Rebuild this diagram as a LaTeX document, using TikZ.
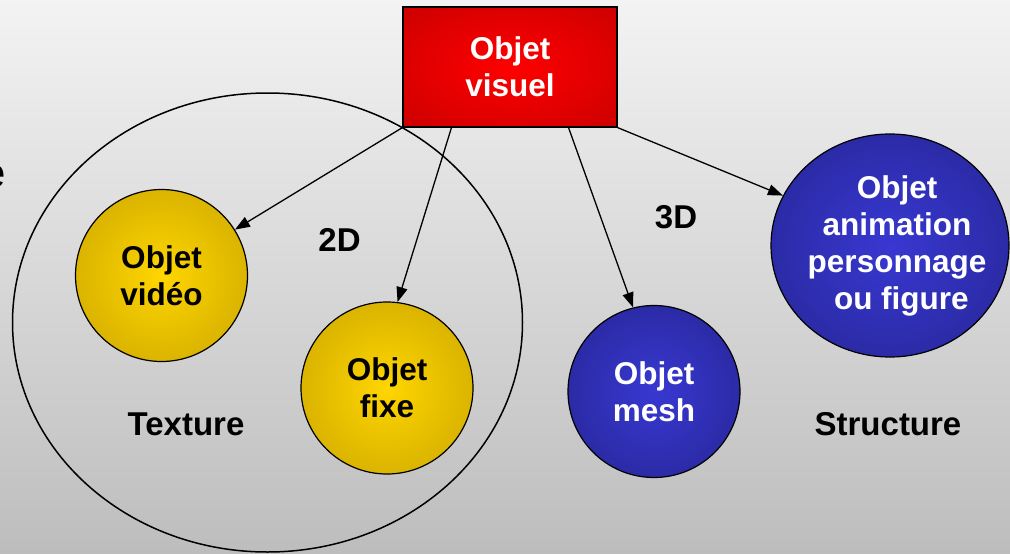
\documentclass[tikz,border=0pt]{standalone}
\usepackage{fontspec}
\setmainfont{Liberation Sans}
\usetikzlibrary{arrows.meta,shapes.geometric}
\definecolor{bgtop}{HTML}{F3F3F3}
\definecolor{bgbot}{HTML}{BDBDBD}
\definecolor{redin}{HTML}{FF0000}
\definecolor{redout}{HTML}{B80000}
\definecolor{yelin}{HTML}{FFD600}
\definecolor{yelout}{HTML}{B59200}
\definecolor{bluin}{HTML}{3838D2}
\definecolor{bluout}{HTML}{1E1E7C}
\pgfdeclareradialshading{redshade}{\pgfpoint{0bp}{0bp}}{color(0bp)=(redin); color(50bp)=(redout)}
\pgfdeclareradialshading{yelshade}{\pgfpoint{0bp}{0bp}}{color(0bp)=(yelin); color(50bp)=(yelout)}
\pgfdeclareradialshading{blushade}{\pgfpoint{0bp}{0bp}}{color(0bp)=(bluin); color(50bp)=(bluout)}
\tikzset{
  nodefont/.style={font=\bfseries\fontsize{31.5}{37}\selectfont, align=center},
  labelfont/.style={font=\bfseries\fontsize{33}{38}\selectfont, anchor=base},
  redbox/.style={rectangle, draw=black, line width=1.2pt, shading=redshade, text=white,
     minimum width=214pt, minimum height=120pt, inner sep=0pt, nodefont},
  yelball/.style={circle, draw=black, line width=1.2pt, shading=yelshade, text=black,
     minimum size=172pt, inner sep=0pt, nodefont},
  bluball/.style={circle, draw=black, line width=1.2pt, shading=blushade, text=white,
     minimum size=172pt, inner sep=0pt, nodefont},
  bluoval/.style={ellipse, draw=black, line width=1.2pt, shading=blushade,
     minimum width=238pt, minimum height=223pt, inner sep=0pt},
  zone/.style={ellipse, draw=black, line width=1.5pt, inner sep=0pt},
  arr/.style={draw=black, line width=1.3pt, -{Triangle[length=15pt,width=11pt]}}
}
\begin{document}
\begin{tikzpicture}[x=1pt,y=-1pt]
  \useasboundingbox (0,0) rectangle (1010,554);
  \shade[top color=bgtop, bottom color=bgbot] (0,0) rectangle (1010,554);
  % clipped fragment at the left edge
  \node[font=\fontsize{42}{46}\selectfont\rmfamily, anchor=base east, inner sep=0pt] (frag) at (6,187) {e};
  % texture zone
  \node[zone, minimum width=510pt, minimum height=459pt] (texzone) at (267.5,322.5) {};
  % nodes
  \node[redbox] (visuel) at (510,67) {Objet\\visuel};
  \node[yelball] (video) at (161.5,275.5) {Objet\\vidéo};
  \node[yelball] (fixe) at (387,388) {Objet\\fixe};
  \node[bluball] (mesh) at (654,391.5) {Objet\\mesh};
  \node[bluoval] (anim) at (890,245.5) {};
  \node[nodefont, text=white, inner sep=0pt] (animtxt) at (897,246) {Objet\\animation\\personnage\\\ ou figure};
  % labels
  \node[labelfont] (tex) at (186,435) {Texture};
  \node[labelfont] (str) at (888,435) {Structure};
  \node[labelfont] (twod) at (339.5,251) {2D};
  \node[labelfont] (threed) at (676,228) {3D};
  % arrows
  \draw[arr] (visuel.south west) -- (video.32);
  \draw[arr] (visuel.226) -- (fixe.83);
  \draw[arr] (visuel.314) -- (mesh.104);
  \draw[arr] (visuel.south east) -- (anim.155);
\end{tikzpicture}
\end{document}
